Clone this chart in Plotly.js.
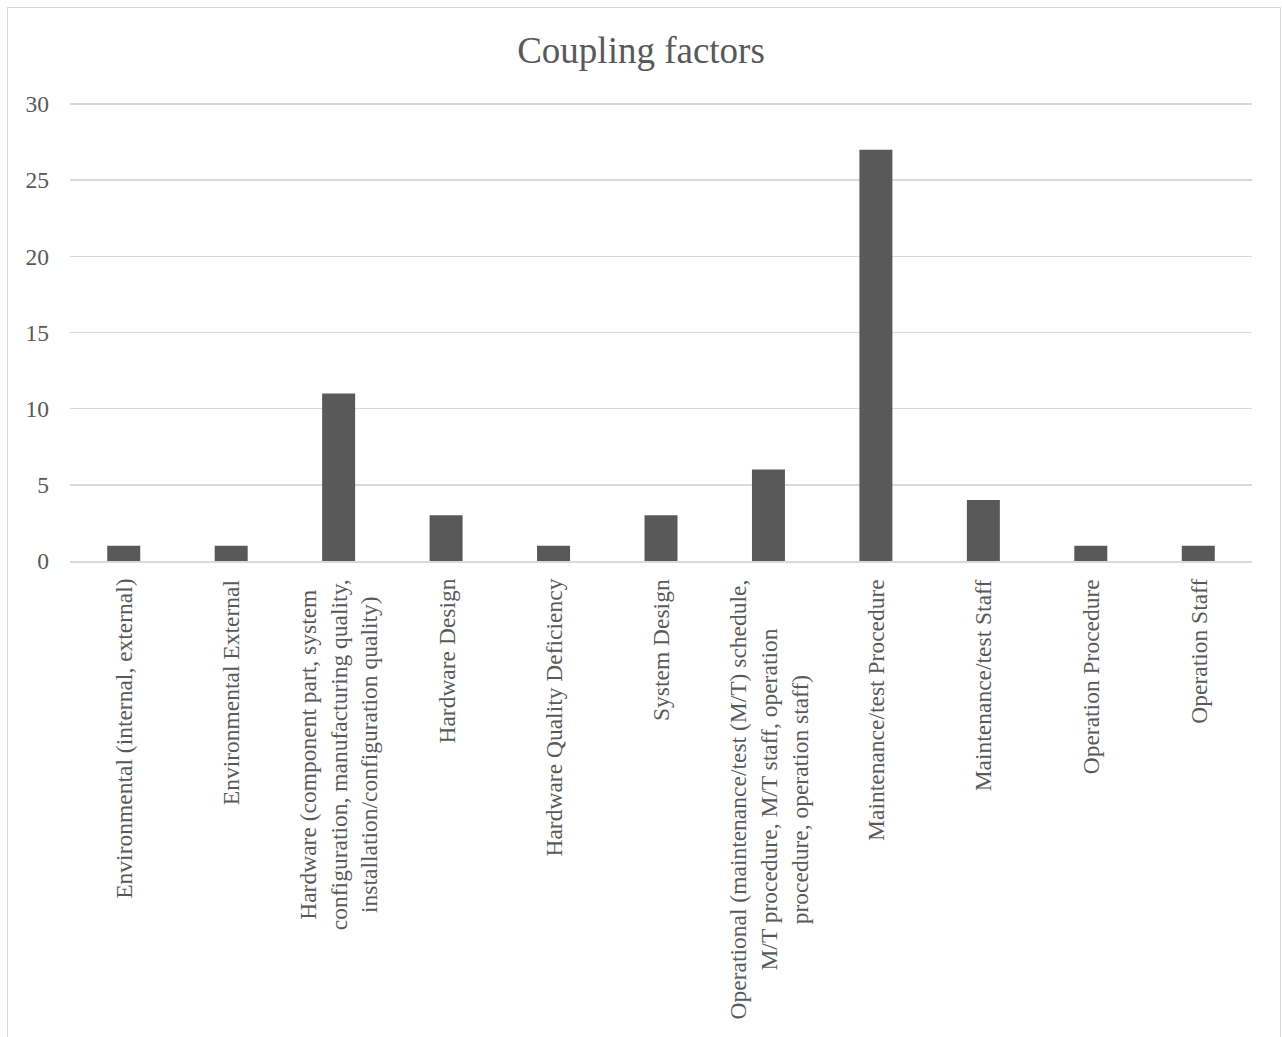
<!DOCTYPE html>
<html>
<head>
<meta charset="utf-8">
<script src="https://cdn.plot.ly/plotly-3.0.1.min.js"></script>
<style>
  html, body { margin: 0; padding: 0; background: #ffffff; overflow: hidden; }
  #wrap { position: relative; width: 1282px; height: 1037px; }
  #chart { position: absolute; left: 0; top: 0; width: 1282px; height: 1037px; }
  #frame { position: absolute; left: 7px; top: 7px; width: 1274px; height: 1100px;
           border: 1.5px solid #d9d9d9; pointer-events: none; box-sizing: border-box; }
</style>
</head>
<body>
<div id="wrap">
  <div id="chart"></div>
  <div id="frame"></div>
</div>
<script>
const categories = [
  "Environmental (internal, external)",
  "Environmental External",
  "Hardware (component part, system<br>configuration, manufacturing quality,<br>installation/configuration quality)",
  "Hardware Design",
  "Hardware Quality Deficiency",
  "System Design",
  "Operational (maintenance/test (M/T) schedule,<br>M/T procedure, M/T staff, operation<br>procedure, operation staff)",
  "Maintenance/test Procedure",
  "Maintenance/test Staff",
  "Operation Procedure",
  "Operation Staff"
];
const counts = [1, 1, 11, 3, 1, 3, 6, 27, 4, 1, 1];
const yTicks = [0, 5, 10, 15, 20, 25, 30];
const chartTitle = "Coupling factors";

const textColor = "#595959";
const fontFamily = "'Liberation Serif', 'Times New Roman', serif";

const trace = {
  type: "bar",
  x: categories,
  y: counts,
  marker: { color: "#595959" },
  hoverinfo: "x+y"
};

const labelAnnotations = categories.map(c => ({
  x: c, xref: "x",
  y: 0, yref: "y",
  yshift: -16,
  text: c,
  textangle: -90,
  showarrow: false,
  xanchor: "center",
  yanchor: "top",
  align: "center",
  font: { family: fontFamily, size: 23.5, color: textColor }
}));

const layout = {
  width: 1282,
  height: 1037,
  margin: { l: 70, r: 30, t: 102, b: 476 },
  paper_bgcolor: "#ffffff",
  plot_bgcolor: "#ffffff",
  showlegend: false,
  bargap: 0.693,
  title: {
    text: chartTitle,
    font: { family: fontFamily, size: 37, color: textColor },
    x: 0.5, xanchor: "center",
    y: 1 - 50 / 1037, yanchor: "middle", yref: "container"
  },
  xaxis: {
    type: "category",
    showticklabels: false,
    showgrid: false,
    showline: true,
    linecolor: "#d9d9d9",
    linewidth: 1.5,
    ticks: "",
    zeroline: false
  },
  yaxis: {
    range: [0, 30.13],
    tickvals: yTicks,
    ticktext: yTicks.map(String),
    showgrid: true,
    gridcolor: "#d9d9d9",
    gridwidth: 1.5,
    zeroline: false,
    showline: false,
    ticks: "",
    ticklabelstandoff: 20,
    tickfont: { family: fontFamily, size: 23.5, color: textColor }
  },
  annotations: labelAnnotations
};

Plotly.newPlot("chart", [trace], layout, { displayModeBar: false, staticPlot: true });
</script>
</body>
</html>
